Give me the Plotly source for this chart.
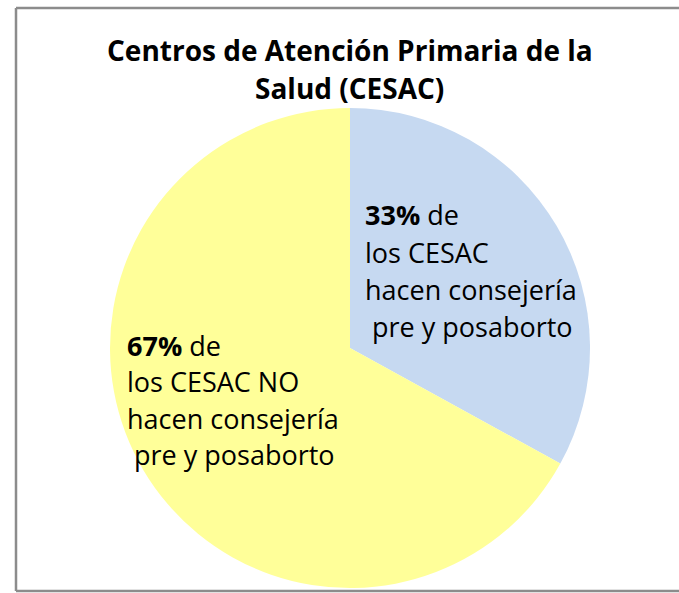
import plotly.graph_objects as go

# data
labels = ["Hacen consejería", "No hacen consejería"]
values = [33, 67]
colors = ["#c6d9f1", "#ffff99"]

title_lines = ["Centros de Atención Primaria de la", "Salud (CESAC)"]
label_si = ["<b>33%</b> de", "los CESAC", "hacen consejería", "\u00a0pre y posaborto"]
label_no = ["<b>67%</b> de", "los CESAC NO", "hacen consejería", "\u00a0pre y posaborto"]

W, H = 679, 593
cx, cy, r = 350, 348, 240


def px(x):
    return x / W


def py(y):
    return (H - y) / H


fig = go.Figure()

fig.add_trace(go.Pie(
    labels=labels,
    values=values,
    marker=dict(colors=colors, line=dict(width=0)),
    sort=False,
    direction="clockwise",
    rotation=0,
    textinfo="none",
    hoverinfo="label+percent",
    showlegend=False,
    domain=dict(x=[px(cx - r), px(cx + r)], y=[py(cy + r), py(cy - r)]),
))

font_main = "'Open Sans', sans-serif"

annotations = []
for i, line in enumerate(title_lines):
    annotations.append(dict(
        x=px(350), y=py(50 + i * 38), xref="paper", yref="paper",
        text=f"<b>{line}</b>", showarrow=False, xanchor="center", yanchor="middle",
        font=dict(family=font_main, size=28, color="#000000"),
    ))
for i, line in enumerate(label_si):
    annotations.append(dict(
        x=px(363), y=py(215 + i * 37), xref="paper", yref="paper",
        text=line, showarrow=False, xanchor="left", yanchor="middle",
        font=dict(family=font_main, size=27, color="#000000"),
    ))
for i, line in enumerate(label_no):
    annotations.append(dict(
        x=px(125), y=py(345 + i * 36.5), xref="paper", yref="paper",
        text=line, showarrow=False, xanchor="left", yanchor="middle",
        font=dict(family=font_main, size=27, color="#000000"),
    ))

frame = dict(type="line", xref="paper", yref="paper",
             line=dict(color="#8c8c8c", width=2.5))
fig.update_layout(
    width=W,
    height=H,
    margin=dict(l=0, r=0, t=0, b=0),
    paper_bgcolor="white",
    plot_bgcolor="white",
    annotations=annotations,
    shapes=[
        dict(frame, x0=px(16), x1=px(16), y0=py(591), y1=py(8)),
        dict(frame, x0=px(16), x1=1, y0=py(8), y1=py(8)),
        dict(frame, x0=px(16), x1=1, y0=py(591), y1=py(591)),
    ],
)

# drop the default page margin so the figure fills the window exactly
fig.write_html(
    "out.html",
    config={"displayModeBar": False},
    post_script="document.body.style.margin = '0'; document.body.style.overflow = 'hidden';",
)
